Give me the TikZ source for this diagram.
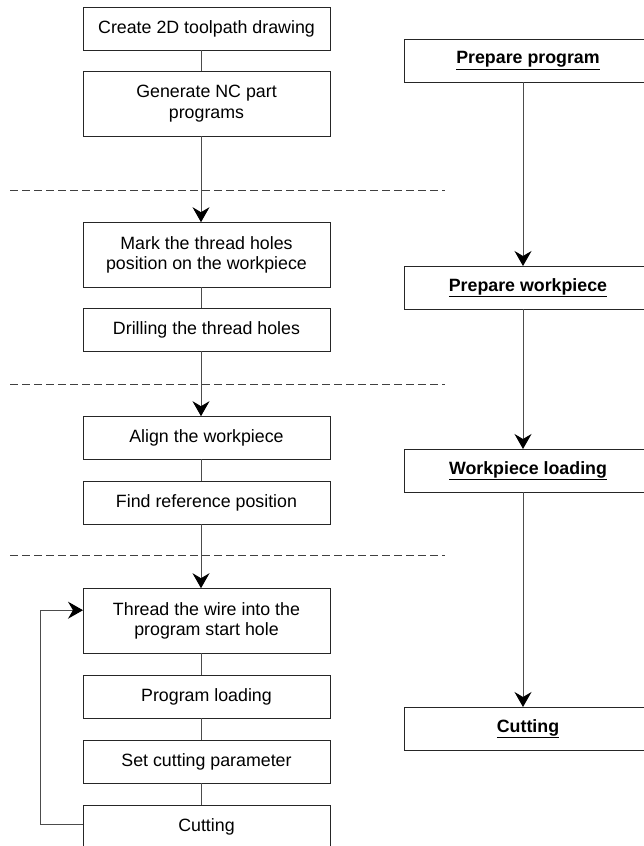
\documentclass[tikz,border=0pt]{standalone}
\usepackage{fontspec}
\setmainfont{Liberation Sans}
\usepackage{tikz}
\usetikzlibrary{positioning, arrows.meta}
\tikzset{
		step nodes/.style={
			rectangle,
			draw=black!85,
			line width=1pt,
			align=center,
			minimum width=247pt,
			minimum height=43pt,
			inner sep=0pt,
			outer sep=0pt,
			font=\fontsize{17.8}{20.5}\selectfont
		},
		two lines/.style={minimum height=65pt},
		phase nodes/.style={
			step nodes,
			minimum width=248pt,
			font=\fontsize{17.8}{20.5}\selectfont\bfseries
		},
		flow/.style={draw=black!70, line width=1pt},
		flow arrow/.style={
			flow,
			-{Stealth[length=15pt, width=17pt, inset=5pt, black]}
		},
		stage line/.style={draw=black!75, line width=1pt, dash pattern=on 8pt off 4pt}
	}
\begin{document}
\begin{tikzpicture}[x=1pt, y=1pt]
			\useasboundingbox (0,0) rectangle (643,-846);
			% steps
			\node (b1) [step nodes] at (206.5,-28.7) {Create 2D toolpath drawing};
			\node (b2) [step nodes, two lines, below=21pt of b1] {Generate NC part\\programs};
			\node (b3) [step nodes, two lines, below=86pt of b2] {Mark the thread holes\\position on the workpiece};
			\node (b4) [step nodes, below=21pt of b3] {Drilling the thread holes};
			\node (b5) [step nodes, below=65pt of b4] {Align the workpiece};
			\node (b6) [step nodes, below=22pt of b5] {Find reference position};
			\node (b7) [step nodes, two lines, below=64pt of b6] {Thread the wire into the\\program start hole};
			\node (b8) [step nodes, below=22pt of b7] {Program loading};
			\node (b9) [step nodes, below=22pt of b8] {Set cutting parameter};
			\node (b10) [step nodes, below=22pt of b9] {Cutting};
			% phases
			\node (p1) [phase nodes] at (528,-60.5) {\underline{Prepare program}};
			\node (p2) [phase nodes, below=184pt of p1] {\underline{Prepare workpiece}};
			\node (p3) [phase nodes, below=140pt of p2] {\underline{Workpiece loading}};
			\node (p4) [phase nodes, below=215pt of p3] {\underline{Cutting}};
			\foreach \y in {190, 384, 555}
				\draw [stage line] (10,-\y) -- (445,-\y);
			\foreach \a/\b in {b1/b2, b3/b4, b5/b6, b7/b8, b8/b9, b9/b10}
				\draw [flow] ([xshift=-5.5pt]\a.south) -- ([xshift=-5.5pt]\b.north);
			\foreach \a/\b in {b2/b3, b4/b5, b6/b7}
				\draw [flow arrow] ([xshift=-5.5pt]\a.south) -- ([xshift=-5.5pt]\b.north);
			\foreach \a/\b in {p1/p2, p2/p3, p3/p4}
				\draw [flow arrow] ([xshift=-5pt]\a.south) -- ([xshift=-5pt]\b.north);
			\draw [flow arrow] ([yshift=2.5pt]b10.west) -- ++(-43,0) |- ([yshift=10.5pt]b7.west);
		\end{tikzpicture}
\end{document}
